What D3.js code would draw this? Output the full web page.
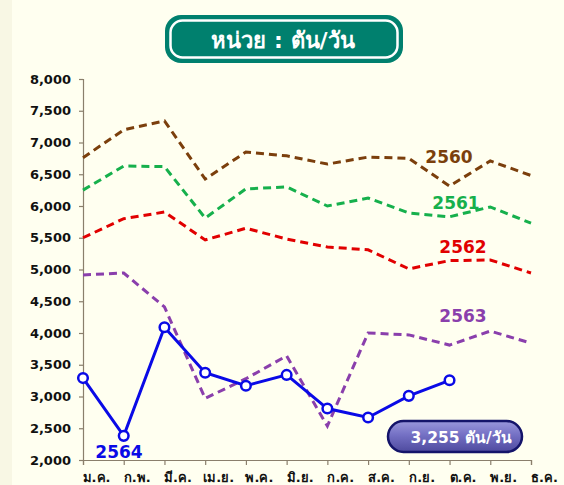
<!DOCTYPE html>
<html><head><meta charset="utf-8">
<script src="https://cdn.jsdelivr.net/npm/d3@7"></script>
<style>html,body{margin:0;padding:0;background:#fffff0;}svg{display:block;}</style>
</head><body>
<svg id="c" width="564" height="485"></svg>
<script>
const months = ["ม.ค.","ก.พ.","มี.ค.","เม.ย.","พ.ค.","มิ.ย.","ก.ค.","ส.ค.","ก.ย.","ต.ค.","พ.ย.","ธ.ค."];
const yTicks = [2000,2500,3000,3500,4000,4500,5000,5500,6000,6500,7000,7500,8000];
const y2560 = [6760,7200,7340,6425,6850,6790,6660,6770,6750,6315,6710,6480];
const y2561 = [6250,6630,6620,5810,6270,6300,6000,6125,5890,5830,5985,5730];
const y2562 = [5500,5800,5905,5465,5650,5480,5355,5310,5010,5140,5150,4945];
const y2563 = [4915,4945,4410,2970,3280,3640,2535,4000,3970,3810,4030,3840];
const y2564 = [3290,2380,4090,3375,3170,3340,2810,2670,3010,3255];
const seriesNames = ["2560","2561","2562","2563","2564"];
const title = "หน่วย : ตัน/วัน";
const badge = "3,255 ตัน/วัน";

const svg = d3.select("#c");
svg.append("rect").attr("width",564).attr("height",485).attr("fill","#fffff0");
svg.append("rect").attr("width",12).attr("height",485).attr("fill","#f8f7e4");

const x = d3.scalePoint().domain(months).range([83,531]);
const y = d3.scaleLinear().domain([2000,8000]).range([460,79]);

const axisColor = "#8a7f6c";
const ya = svg.append("g").attr("transform","translate(83,0)")
  .call(d3.axisLeft(y).tickValues(yTicks).tickSize(4).tickPadding(8).tickFormat(d3.format(",")));
ya.select(".domain").attr("stroke",axisColor).attr("stroke-width",1.2);
ya.selectAll(".tick line").attr("stroke",axisColor).attr("stroke-width",1.2);
ya.selectAll("text").attr("font-family","Verdana, 'DejaVu Sans', sans-serif").attr("font-weight","bold")
  .attr("font-size","13px").attr("fill","#111");

const xa = svg.append("g").attr("transform","translate(0,460)")
  .call(d3.axisBottom(x).tickSize(5).tickPadding(6));
xa.select(".domain").attr("stroke",axisColor).attr("stroke-width",1.2);
xa.selectAll(".tick line").attr("stroke",axisColor).attr("stroke-width",1.2);
xa.selectAll("text").attr("font-family","Tahoma, 'DejaVu Sans', sans-serif").attr("font-weight","bold")
  .attr("font-size","13px").attr("fill","#111").attr("dx",13).attr("dy","0.85em");

const line = d3.line().x((d,i)=>x(months[i])).y(d=>y(d));
const dashed = [
  {v:y2560,c:"#7b3f0c",lbl:seriesNames[0],lx:449,ly:157},
  {v:y2561,c:"#16b04c",lbl:seriesNames[1],lx:456,ly:203},
  {v:y2562,c:"#e10000",lbl:seriesNames[2],lx:463,ly:247},
  {v:y2563,c:"#8a3fac",lbl:seriesNames[3],lx:463,ly:316}
];
dashed.forEach(s=>{
  svg.append("path").datum(s.v).attr("d",line).attr("fill","none")
    .attr("stroke",s.c).attr("stroke-width",3).attr("stroke-dasharray","8,5");
});
svg.append("path").datum(y2564).attr("d",line).attr("fill","none")
  .attr("stroke","#0a0ae6").attr("stroke-width",3);
svg.selectAll("circle.p").data(y2564).enter().append("circle")
  .attr("cx",(d,i)=>x(months[i])).attr("cy",d=>y(d)).attr("r",4.8)
  .attr("fill","#fff").attr("stroke","#0a0ae6").attr("stroke-width",2.5);

const lf = "Verdana, 'DejaVu Sans', sans-serif";
dashed.forEach(s=>{
  svg.append("text").attr("x",s.lx).attr("y",s.ly).attr("text-anchor","middle")
    .attr("dominant-baseline","central").attr("font-family",lf).attr("font-weight","bold")
    .attr("font-size","17px").attr("fill",s.c).text(s.lbl);
});
svg.append("text").attr("x",119).attr("y",452).attr("text-anchor","middle")
  .attr("dominant-baseline","central").attr("font-family",lf).attr("font-weight","bold")
  .attr("font-size","17px").attr("fill","#0a0ae6").text(seriesNames[4]);

svg.append("rect").attr("x",165).attr("y",15).attr("width",238).attr("height",48).attr("rx",16)
  .attr("fill","#00806e");
svg.append("rect").attr("x",170.5).attr("y",20.5).attr("width",227).attr("height",37).attr("rx",12)
  .attr("fill","none").attr("stroke","#fff").attr("stroke-width",2.5);
svg.append("text").attr("x",283).attr("y",40).attr("text-anchor","middle").attr("dominant-baseline","central")
  .attr("font-family","Tahoma, 'DejaVu Sans', 'Noto Sans', sans-serif").attr("font-weight","bold")
  .attr("font-size","22px").attr("fill","#fff").text(title);

const defs = svg.append("defs");
const g = defs.append("linearGradient").attr("id","bg").attr("x1",0).attr("y1",0).attr("x2",0).attr("y2",1);
g.append("stop").attr("offset","0%").attr("stop-color","#9a98dc");
g.append("stop").attr("offset","45%").attr("stop-color","#7470c4");
g.append("stop").attr("offset","100%").attr("stop-color","#4e4a9e");
svg.append("rect").attr("x",388).attr("y",421).attr("width",134).attr("height",31).attr("rx",15.5)
  .attr("fill","url(#bg)").attr("stroke","#14146a").attr("stroke-width",2.5);
svg.append("text").attr("x",461).attr("y",438).attr("text-anchor","middle").attr("dominant-baseline","central")
  .attr("font-family","Tahoma, 'DejaVu Sans', sans-serif").attr("font-weight","bold")
  .attr("font-size","15.5px").attr("fill","#fff").text(badge);
</script>
</body></html>
